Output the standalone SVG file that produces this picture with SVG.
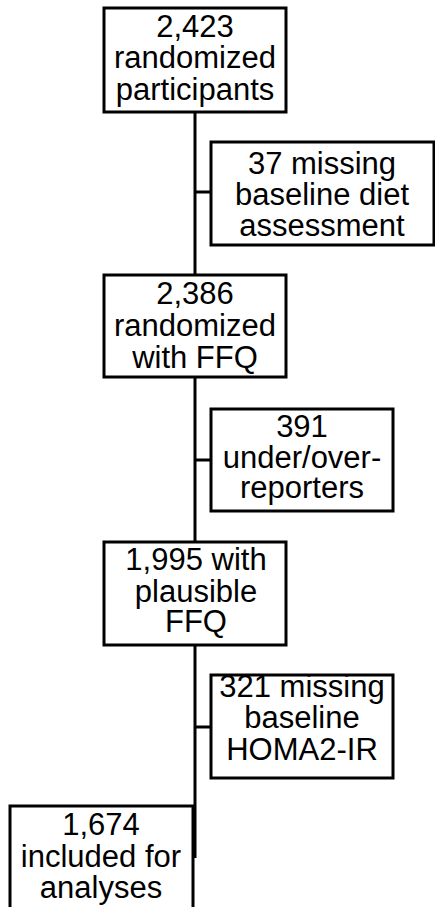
<svg xmlns="http://www.w3.org/2000/svg" width="435" height="907" viewBox="0 0 435 907">
<style>
.box{fill:#fff;stroke:#000;stroke-width:3}
.ln{fill:none;stroke:#000;stroke-width:3}
text{font-family:"Liberation Sans",Arial,sans-serif;font-size:31px;fill:#000;text-anchor:middle}
</style>
<rect width="435" height="907" fill="#fff"/>
<g id="connectors">
<path class="ln" d="M195,112V275M195,377V542M195,645V858M195,192H211M195,460H211M195,727H211"/>
</g>
<g id="n1">
<rect class="box" x="104" y="8" width="182" height="104"/>
<text x="195" y="37">2,423</text>
<text x="195" y="68">randomized</text>
<text x="195" y="100">participants</text>
</g>
<g id="n2">
<rect class="box" x="211" y="142" width="223" height="103"/>
<text x="322" y="174">37 missing</text>
<text x="322" y="205">baseline diet</text>
<text x="322" y="236">assessment</text>
</g>
<g id="n3">
<rect class="box" x="104" y="275" width="182" height="102"/>
<text x="195" y="304">2,386</text>
<text x="195" y="336">randomized</text>
<text x="195" y="368">with FFQ</text>
</g>
<g id="n4">
<rect class="box" x="211" y="409" width="182" height="102"/>
<text x="302" y="437">391</text>
<text x="302" y="468">under/over-</text>
<text x="302" y="498">reporters</text>
</g>
<g id="n5">
<rect class="box" x="104" y="542" width="182" height="103"/>
<text x="196" y="570">1,995 with</text>
<text x="196" y="602">plausible</text>
<text x="196" y="632">FFQ</text>
</g>
<g id="n6">
<rect class="box" x="211" y="675" width="182" height="103"/>
<text x="302" y="697">321 missing</text>
<text x="302" y="728">baseline</text>
<text x="302" y="760">HOMA2-IR</text>
</g>
<g id="n7">
<rect class="box" x="10" y="806" width="183" height="110"/>
<text x="101" y="835">1,674</text>
<text x="101" y="867">included for</text>
<text x="101" y="898">analyses</text>
</g>
</svg>
